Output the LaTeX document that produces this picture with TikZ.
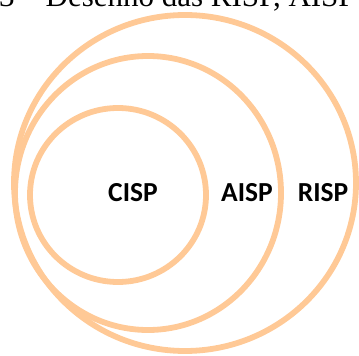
\documentclass[tikz,border=0pt]{standalone}
\usepackage{fontspec}
\setmainfont{Liberation Serif}
\newfontfamily\labelfont{Carlito}
\definecolor{peach}{RGB}{255,201,150}
\begin{document}
\begin{tikzpicture}[x=1pt,y=-1pt,
  ring/.style={draw=peach,line width=5.8pt},
  lbl/.style={font=\labelfont\bfseries\fontsize{27.5}{27.5}\selectfont,text=black,inner sep=0pt}]
\useasboundingbox (0,0) rectangle (359,356);
\clip (0,0) rectangle (359,356);
\node[anchor=base west,inner sep=0pt,font=\fontsize{31}{31}\selectfont] (cap) at (-1,6.5) {3 – Desenho das RISP, AISP e CISP};
\draw[ring] (185,183) ellipse [x radius=171,y radius=168];
\draw[ring] (148,193) ellipse [x radius=133,y radius=137];
\draw[ring] (118,195) ellipse [x radius=88,y radius=87];
\node[lbl] (cisp) at (133,193) {CISP};
\node[lbl] (aisp) at (247,193) {AISP};
\node[lbl] (risp) at (323,193) {RISP};
\end{tikzpicture}
\end{document}
